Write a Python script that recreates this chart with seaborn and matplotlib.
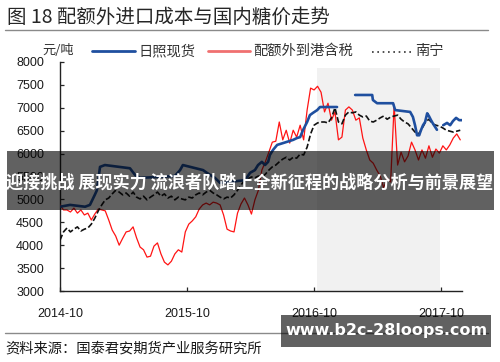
import numpy as np
import pandas as pd
import matplotlib
matplotlib.use("Agg")
import matplotlib.pyplot as plt
import seaborn as sns
from matplotlib.patches import Rectangle
from matplotlib.lines import Line2D

sns.set_theme(style="white")
plt.rcParams["font.family"] = ["Noto Sans CJK SC", "DejaVu Sans"]

# ---------------- data ----------------
grid_start = "2014-10-01"   # red / black series sampled every 10 days
red_vals = [4880, 4770, 4770, 4725, 4810, 4700, 4770, 4660, 4700, 4550,
            4680, 4790, 4770, 4750, 4550, 4330, 4200, 4000, 4150, 4290,
            4310, 4400, 4160, 3960, 3900, 3740, 3760, 3980, 4050, 3810,
            3630, 3570, 3650, 3810, 3900, 3850, 4290, 4460, 4530, 4620,
            4790, 4880, 4920, 4880, 4940, 4920, 4880, 4660, 4350, 4310,
            4290, 4700, 4900, 5030, 4880, 4680, 4990, 5200, 5640, 5820,
            6030, 6250, 6270, 6690, 6300, 6510, 6230, 6510, 6360, 6620,
            6300, 6950, 7430, 7390, 7470, 7340, 6910, 7100, 6730, 6910,
            6300, 6360, 6950, 7020, 6950, 6730, 6780, 6340, 6080, 5860,
            5790, 5640, 5510, 5250, 5470, 5380, 7060, 5750, 6030, 5820,
            5950, 6250, 6080, 5860, 6080, 5900, 6170, 5920, 6100, 6010,
            6170, 6080, 6190, 6340, 6430, 6300]
black_vals = [4110, 4290, 4375, 4290, 4350, 4400, 4310, 4350, 4375, 4460,
              4590, 4750, 4880, 4990, 5030, 5120, 5200, 5160, 5100, 5140,
              5070, 5160, 5050, 5010, 5070, 4990, 5050, 5100, 5160, 5070,
              5120, 5030, 5070, 4990, 5050, 5010, 4990, 5050, 5030, 5100,
              5140, 5100, 5160, 5200, 5140, 5100, 5050, 5010, 5050, 5030,
              5100, 5200, 5310, 5420, 5450, 5490, 5470, 5510, 5490, 5550,
              5640, 5710, 5750, 5820, 5880, 5920, 5860, 5920, 5900, 5990,
              5970, 6140, 6430, 6620, 6670, 6690, 6690, 6670, 6780, 7000,
              6690, 6650, 6840, 6910, 6890, 6910, 6840, 6800, 6820, 6710,
              6690, 6730, 6780, 6820, 6750, 6800, 6820, 6840, 6750, 6690,
              6650, 6560, 6470, 6430, 6540, 6690, 6750, 6650, 6620, 6600,
              6560, 6510, 6490, 6470, 6490, 6510]

blue_dates = ["2014-10-01", "2014-10-30", "2014-12-12", "2014-12-26", "2015-01-09",
              "2015-01-15", "2015-01-24", "2015-02-07", "2015-04-20", "2015-05-05",
              "2015-05-19", "2015-08-27", "2015-09-11", "2015-09-19", "2015-11-16",
              "2015-11-27", "2015-12-20", "2016-01-04", "2016-03-16", "2016-03-30",
              "2016-04-13", "2016-04-22", "2016-05-03", "2016-05-12", "2016-05-21",
              "2016-05-26", "2016-06-04", "2016-06-16", "2016-07-03", "2016-08-01",
              "2016-08-12", "2016-08-21", "2016-08-29", "2016-09-10", "2016-09-18",
              "2016-09-27", "2016-10-09", "2016-10-17", "2016-12-05",
              "2017-01-26", "2017-03-16", "2017-03-18", "2017-03-30", "2017-05-15",
              "2017-05-21", "2017-07-03", "2017-07-11", "2017-07-17", "2017-07-23",
              "2017-07-29", "2017-08-03", "2017-08-09", "2017-08-15", "2017-08-21",
              "2017-08-26", "2017-09-01", "2017-09-07", "2017-09-13", "2017-09-18",
              "2017-10-06", "2017-10-17", "2017-10-26", "2017-11-03", "2017-11-12",
              "2017-11-21", "2017-11-29"]
blue_vals = [4840, 4880, 4840, 4880, 5100, 5200, 5710, 5750, 5680, 5530,
             5470, 5510, 5640, 5750, 5640, 5580, 5470, 5360, 5420, 5580,
             5640, 5750, 5820, 5750, 5820, 5970, 6080, 6190, 6230, 6300,
             6340, 6360, 6510, 6690, 6840, 6890, 6950, 7017, 7017,
             7280, 7280, 7170, 7100, 7100, 6950, 6910, 6800, 6620, 6400,
             6400, 6510, 6620, 6690, 6880, 6820, 6730, 6650, 6580, 6520,
             6620, 6670, 6620, 6710, 6780, 6730, 6730]
blue_seg = [1] * 39 + [2] * 20 + [3] * 7

x_tick_labels = ["2014-10", "2015-10", "2016-10", "2017-10"]
y_ticks = [3000, 3500, 4000, 4500, 5000, 5500, 6000, 6500, 7000, 7500, 8000]
shade_span = ("2016-10-08", "2017-09-27")
x_range = ("2014-10-01", "2017-11-29")

series_names = ["日照现货", "配额外到港含税", "南宁"]
title = "图 18 配额外进口成本与国内糖价走势"
unit = "元/吨"
source = "资料来源：国泰君安期货产业服务研究所"
banner = "迎接挑战 展现实力 流浪者队踏上全新征程的战略分析与前景展望"
watermark = "www.b2c-28loops.com"

BLUE = "#1f4f9f"
RED = "#ff1414"

# ---------------- frames ----------------
grid_dates = pd.date_range(grid_start, periods=len(red_vals), freq="10D")
df_red = pd.DataFrame({"date": grid_dates, "v": red_vals})
df_black = pd.DataFrame({"date": grid_dates, "v": black_vals})
df_blue = pd.DataFrame({"date": pd.to_datetime(blue_dates), "v": blue_vals, "seg": blue_seg})

W, H = 500, 362
fig = plt.figure(figsize=(W / 100, H / 100), dpi=100)
ax = fig.add_axes([60 / W, 1 - 291 / H, (462 - 60) / W, (291 - 62) / H])

ax.axvspan(pd.Timestamp(shade_span[0]), pd.Timestamp(shade_span[1]),
           ymin=0, ymax=(7870 - 3000) / 5000, color="#f1f1f1", lw=0, zorder=0)

sns.lineplot(data=df_red, x="date", y="v", ax=ax, color=RED, lw=0.9,
             estimator=None, sort=False, zorder=3)
sns.lineplot(data=df_black, x="date", y="v", ax=ax, color="#111111", lw=1.2,
             estimator=None, sort=False, zorder=4)
ax.get_lines()[-1].set_dashes((3.5, 1.5))
sns.lineplot(data=df_blue, x="date", y="v", units="seg", ax=ax, color=BLUE,
             lw=1.9, estimator=None, sort=False, zorder=5)

ax.set_xlim(pd.Timestamp(x_range[0]), pd.Timestamp(x_range[1]))
ax.set_ylim(y_ticks[0], y_ticks[-1])
ax.set_yticks(y_ticks)
ax.set_yticklabels([str(t) for t in y_ticks])
ax.set_xticks([pd.Timestamp(t + "-01") for t in x_tick_labels])
ax.set_xticklabels(x_tick_labels)
ax.set_xlabel("")
ax.set_ylabel("")
for lab in ax.get_xticklabels() + ax.get_yticklabels():
    lab.set_fontfamily(["Liberation Sans", "DejaVu Sans"])
    lab.set_fontsize(9)
    lab.set_color("#1a1a1a")
ax.tick_params(axis="y", direction="in", length=3, width=0.9, pad=11.5, left=True)
ax.tick_params(axis="x", direction="in", length=3, width=0.9, pad=12, bottom=True)
for s in ["top", "right"]:
    ax.spines[s].set_visible(False)
for s in ["left", "bottom"]:
    ax.spines[s].set_color("#222222")
    ax.spines[s].set_linewidth(1.0)
ax.set_facecolor("none")

def fx(px):
    return px / W

def fy(py):
    return 1 - py / H

# title and rules
fig.text(fx(7), fy(17), title, fontsize=14, color="#262626", va="center", ha="left")
fig.add_artist(Line2D([fx(5), fx(488)], [fy(30), fy(30)], color="#8a8a8a", lw=1))
fig.add_artist(Line2D([fx(5), fx(488)], [fy(333), fy(333)], color="#8a8a8a", lw=1))
fig.text(fx(5), fy(348), source, fontsize=10.3, color="#1a1a1a", va="center", ha="left")

# legend row
fig.text(fx(58), fy(50), unit, fontsize=9.5, color="#333333", va="center", ha="center",
         style="italic")
fig.add_artist(Line2D([fx(92), fx(135)], [fy(51), fy(51)], color=BLUE, lw=2))
fig.text(fx(138), fy(51), series_names[0], fontsize=10.3, color="#333333", va="center")
fig.add_artist(Line2D([fx(208), fx(250)], [fy(51), fy(51)], color="#f07070", lw=2))
fig.text(fx(253), fy(51), series_names[1], fontsize=10.3, color="#333333", va="center")
fig.add_artist(Line2D([fx(372), fx(414)], [fy(52), fy(52)], color="#333333", lw=1.2,
                      dashes=(1, 2.2)))
fig.text(fx(415), fy(51), series_names[2], fontsize=10.3, color="#333333", va="center")

# overlay banner
fig.add_artist(Rectangle((fx(7), fy(210)), fx(494) - fx(7), fy(151) - fy(210),
                         transform=fig.transFigure, facecolor="black", alpha=0.62,
                         lw=0, zorder=10))
fig.text(fx(250), fy(183), banner, fontsize=12.3, fontweight="bold", color="white",
         ha="center", va="center", zorder=11)

# watermark box
fig.add_artist(Rectangle((fx(281), fy(347)), fx(491) - fx(281), fy(315) - fy(347),
                         transform=fig.transFigure, facecolor="black", alpha=0.62,
                         lw=0, zorder=10))
fig.text(fx(386), fy(331), watermark, fontsize=11.5, fontweight="bold", color="white",
         ha="center", va="center", zorder=11, family=["DejaVu Sans"])

fig.savefig("out.png", dpi=100)
